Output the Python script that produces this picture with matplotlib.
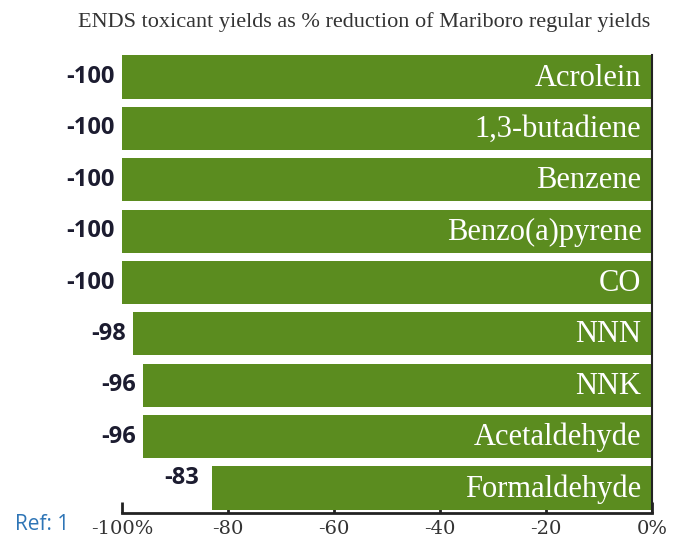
import matplotlib.pyplot as plt

# data
toxicants = ["Acrolein", "1,3-butadiene", "Benzene", "Benzo(a)pyrene", "CO",
             "NNN", "NNK", "Acetaldehyde", "Formaldehyde"]
reduction = [-100, -100, -100, -100, -100, -98, -96, -96, -83]
tick_vals = [-100, -80, -60, -40, -20, 0]
tick_text = ["-100%", "-80", "-60", "-40", "-20", "0%"]

green = "#5b8c1f"

fig = plt.figure(figsize=(6.74, 5.41), dpi=100)
ax = fig.add_axes([122 / 674, 28 / 541, 530 / 674, 458 / 541])

ypos = list(range(len(toxicants)))
ax.barh(ypos, reduction, height=0.84, color=green, zorder=2)

for y, name, val in zip(ypos, toxicants, reduction):
    ax.text(-2, y + 0.02, name, ha="right", va="center", color="white",
            fontsize=22, family="Liberation Serif")
    # the last label sits a little higher and further from its bar
    off = 2.5 if val > -90 else 1.3
    dy = -0.2 if val > -90 else 0
    ax.text(val - off, y + dy, str(val), ha="right", va="center",
            color="#1c1c30", fontsize=17, fontweight="bold", family="Open Sans")

ax.set_xlim(-100, 0)
ax.set_ylim(8.486, -0.428)
ax.set_yticks([])
ax.set_xticks(tick_vals)
ax.set_xticklabels(tick_text, family="DejaVu Serif", fontsize=14, color="#333333")
ax.tick_params(axis="x", direction="in", length=8, width=2, color="#222222", pad=5)

for side in ["top", "left"]:
    ax.spines[side].set_visible(False)
ax.spines["bottom"].set_linewidth(2)
ax.spines["bottom"].set_color("#222222")
ax.spines["right"].set_linewidth(1.5)
ax.spines["right"].set_color("#222222")

fig.text(364 / 674, 1 - 22 / 541, "ENDS toxicant yields as % reduction of Mariboro regular yields",
         ha="center", va="center", fontsize=16, color="#333333", family="Liberation Serif")
fig.text(15 / 674, 1 - 524 / 541, "Ref: 1", ha="left", va="center", fontsize=15,
         color="#2e75b6", family="Open Sans")

fig.savefig("out.png", dpi=100)
